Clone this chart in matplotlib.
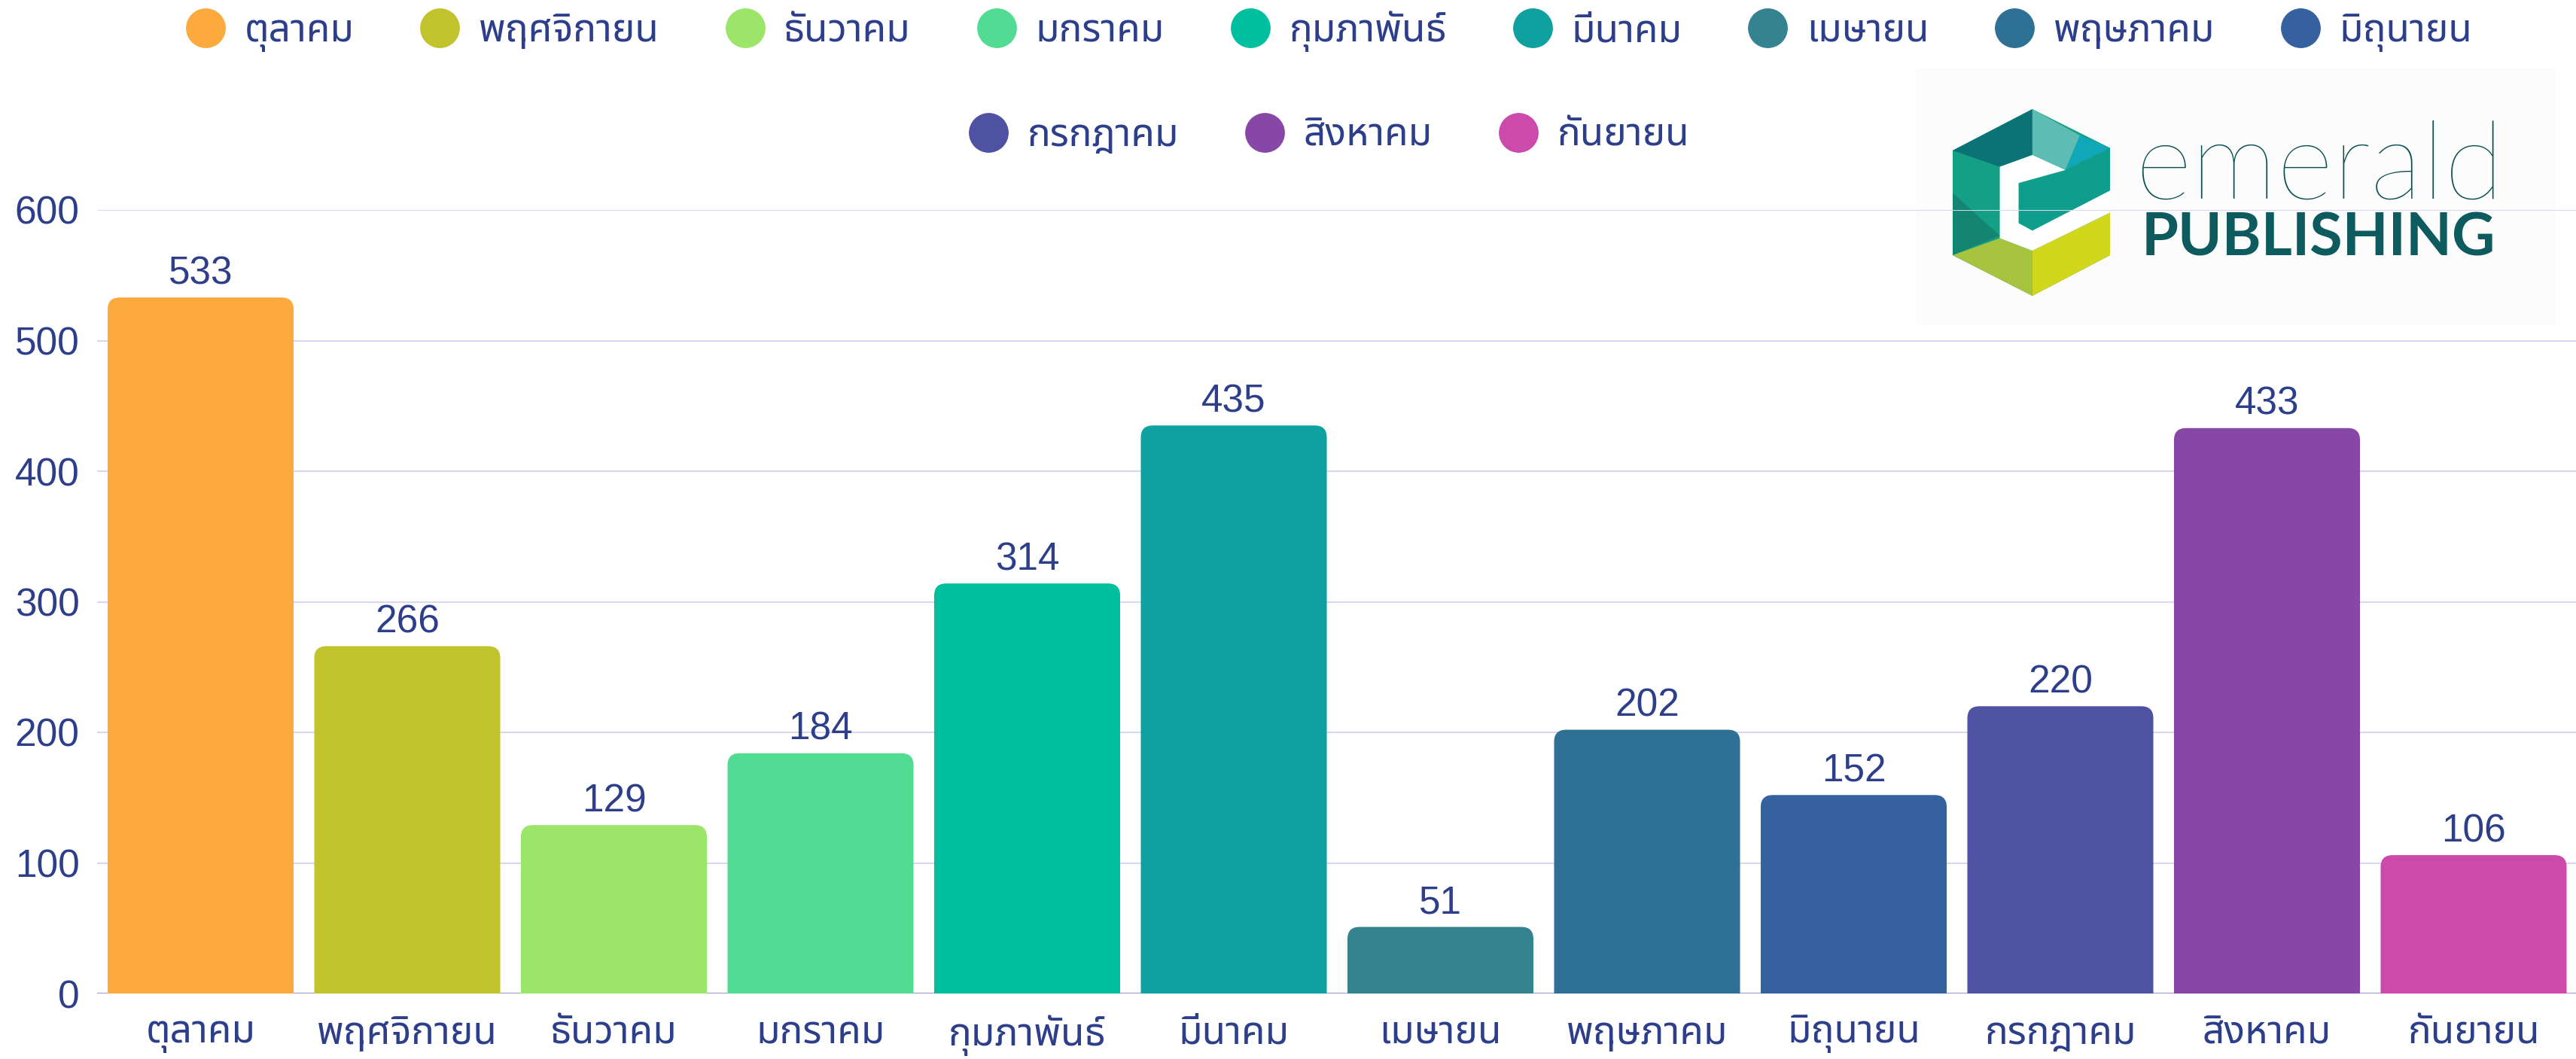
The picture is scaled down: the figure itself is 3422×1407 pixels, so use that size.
import matplotlib
matplotlib.use('Agg')
import matplotlib.pyplot as plt
from matplotlib.patches import FancyBboxPatch, Rectangle, Polygon
from matplotlib.lines import Line2D

# ข้อมูล
months = ['ตุลาคม', 'พฤศจิกายน', 'ธันวาคม', 'มกราคม', 'กุมภาพันธ์', 'มีนาคม',
          'เมษายน', 'พฤษภาคม', 'มิถุนายน', 'กรกฎาคม', 'สิงหาคม', 'กันยายน']
counts = [533, 266, 129, 184, 314, 435, 51, 202, 152, 220, 433, 106]
colors = ['#fcaa3e', '#c2c42e', '#9be56a', '#52db92', '#00bf9f', '#0ea19f',
          '#358290', '#2e7194', '#35629f', '#4f51a3', '#8647a7', '#cd4aad']
yticks = [0, 100, 200, 300, 400, 500, 600]

navy = '#2d3e8a'
thai = ['Noto Sans Thai', 'DejaVu Sans']
num_font = ['Liberation Sans', 'DejaVu Sans']

W, H = 3422, 1407
fig = plt.figure(figsize=(W / 100, H / 100), dpi=100)

# logo (drawn first so the grid goes over it)
fig.patches.append(Rectangle((2545 / W, 1 - 433 / H), 850 / W, 343 / H,
                             transform=fig.transFigure, fc='#fcfcfc', ec='none', zorder=-1))
lg = fig.add_axes([2594 / W, 1 - 393 / H, 209 / W, 248 / H])
lg.set_zorder(1)
lg.set_xlim(222, 850)
lg.set_ylim(880, 135)
lg.axis('off')
hexagon = [(222, 300), (540, 135), (850, 290), (850, 718), (540, 880), (222, 718)]
facets = [
    (hexagon, '#14a085'),
    ([(222, 300), (540, 135), (540, 318), (410, 365)], '#0b7275'),
    ([(540, 135), (730, 240), (672, 378), (540, 318)], '#5dbcb4'),
    ([(730, 240), (850, 290), (672, 378)], '#10a8b8'),
    ([(485, 430), (672, 378), (850, 290), (850, 460), (540, 620), (485, 590)], '#0f9e8b'),
    ([(222, 470), (410, 640), (222, 718)], '#138570'),
    ([(222, 718), (410, 650), (540, 700), (540, 880)], '#a7c43e'),
    ([(540, 700), (850, 548), (850, 718), (540, 880)], '#d3d71c'),
    ([(410, 365), (540, 318), (672, 378), (485, 430), (485, 590), (540, 620),
      (850, 460), (850, 548), (540, 700), (410, 650)], 'white'),
]
for pts, c in facets:
    lg.add_patch(Polygon(pts, closed=True, fc=c, ec='none'))
fig.text(2836 / W, 1 - 264 / H, 'emerald', fontsize=104, family='Lato',
         fontweight='light', color='#0a4f52', va='baseline', zorder=1)
fig.text(2845 / W, 1 - 340 / H, 'PUBLISHING', fontsize=57, family='Lato',
         fontweight='bold', color='#0d5b5e', va='baseline', zorder=1)

# chart
ax = fig.add_axes([129.25 / W, (H - 1320) / H, 3294 / W, 1041 / H])
ax.patch.set_visible(False)
ax.set_zorder(2)
x = list(range(len(months)))
bar_w = 0.9
bars = ax.bar(x, counts, width=bar_w, color=colors, zorder=3)
ax.set_xlim(-0.5, 11.5)
ax.set_ylim(0, 600)

# rounded tops: the box starts below 0 so its lower corners are clipped away
px_x = 3294 / 12
px_y = 1041 / 600
r = 16
for b, c in zip(bars, colors):
    x0, w, h = b.get_x(), b.get_width(), b.get_height()
    b.remove()
    ext = 2 * r / px_y
    ax.add_patch(FancyBboxPatch((x0, -ext), w, h + ext,
                                boxstyle='round,pad=0,rounding_size=%f' % (r / px_x),
                                mutation_aspect=px_x / px_y, fc=c, ec='none', zorder=3))

for i, v in enumerate(counts):
    ax.annotate(str(v), (i, v), xytext=(0, 13), textcoords='offset points',
                ha='center', va='baseline', fontsize=37, color=navy, family=num_font)

ax.set_yticks(yticks)
ax.set_xticks(x)
ax.set_xticklabels(months, family=thai, fontsize=37, color=navy)
ax.tick_params(axis='y', length=0, pad=17, labelsize=37, labelcolor=navy)
ax.tick_params(axis='x', length=0, pad=20)
for t in ax.get_yticklabels():
    t.set_family(num_font)
ax.grid(axis='y', color='#d6d9ee', linewidth=1.5, zorder=1)
for s in ax.spines.values():
    s.set_visible(False)
ax.axhline(0, color='#9a9cc2', linewidth=1.5, zorder=2)

# legend: two rows
handles = [Line2D([], [], marker='o', ls='', markersize=37, mfc=c, mec=c) for c in colors]
leg_kw = dict(loc='center', frameon=False, handlelength=1.0, handletextpad=0.5,
              columnspacing=1.72, prop={'family': thai, 'size': 37}, labelcolor=navy,
              borderpad=0, borderaxespad=0)
fig.legend(handles[:9], months[:9], ncol=9, bbox_to_anchor=(1766 / W, 1 - 42 / H), **leg_kw)
fig.legend(handles[9:], months[9:], ncol=3, bbox_to_anchor=(1766 / W, 1 - 180 / H), **leg_kw)

fig.savefig('out.png')
